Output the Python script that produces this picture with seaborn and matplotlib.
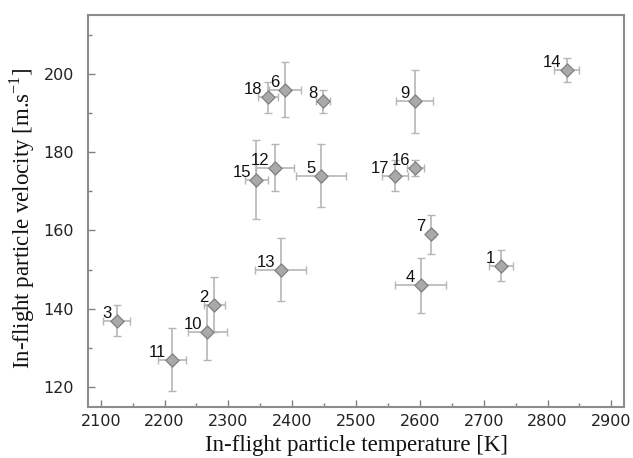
import matplotlib
matplotlib.use("Agg")
import matplotlib.pyplot as plt
import seaborn as sns
import pandas as pd
from matplotlib.ticker import MultipleLocator

labels = ["1", "2", "3", "4", "5", "6", "7", "8", "9", "10", "11", "12", "13", "14", "15", "16", "17", "18"]
temperature = [2727, 2278, 2125, 2601, 2445, 2388, 2618, 2448, 2592, 2267, 2211, 2373, 2382, 2830, 2344, 2593, 2561, 2362]
velocity = [151, 141, 137, 146, 174, 196, 159, 193, 193, 134, 127, 176, 150, 201, 173, 176, 174, 194]
temp_err = [19, 16, 21, 40, 39, 25, 5, 11, 29, 31, 22, 30, 40, 20, 18, 13, 21, 15]
vel_err = [4, 7, 4, 7, 8, 7, 5, 3, 8, 7, 8, 6, 8, 3, 10, 2, 4, 4]

df = pd.DataFrame({"label": labels, "T": temperature, "v": velocity,
                   "dT": temp_err, "dv": vel_err})

sns.set_theme(style="white")
plt.rcParams['font.family'] = ['DejaVu Sans']

fig, ax = plt.subplots(figsize=(6.33, 4.58), dpi=100)
fig.subplots_adjust(left=0.139, right=0.986, top=0.967, bottom=0.112)

ax.errorbar(df["T"], df["v"], xerr=df["dT"], yerr=df["dv"], fmt="none",
            ecolor="#b6b6b6", elinewidth=1.2, capsize=3, capthick=1.0, zorder=2)
sns.scatterplot(data=df, x="T", y="v", ax=ax, marker="D", s=45,
                color="#a9a9a9", edgecolor="#808080", linewidth=0.9, zorder=3)

for _, r in df.iterrows():
    ax.annotate(r["label"], (r["T"], r["v"]), xytext=(-4, 0), textcoords="offset points",
                ha="right", va="bottom", fontsize=12, color="#111111",
                family="Liberation Sans")

ax.set_xlim(2080, 2920)
ax.set_ylim(115, 215)
ax.xaxis.set_major_locator(MultipleLocator(100))
ax.xaxis.set_minor_locator(MultipleLocator(50))
ax.yaxis.set_major_locator(MultipleLocator(20))
ax.yaxis.set_minor_locator(MultipleLocator(10))
ax.tick_params(which="both", direction="in", bottom=True, left=True, top=False, right=False,
               color="#808080", labelsize=11.5, labelcolor="#222222",
               labelfontfamily="DejaVu Sans")
ax.tick_params(which="major", length=5, width=1)
ax.tick_params(which="minor", length=3, width=1)
ax.tick_params(axis="x", pad=5)
ax.tick_params(axis="y", pad=10)

for s in ax.spines.values():
    s.set_color("#8c8c8c")
    s.set_linewidth(1.5)

ax.set_xlabel("In-flight particle temperature [K]", family="Liberation Serif",
              fontsize=16.5, color="#111111")
ax.set_ylabel(r"In-flight particle velocity [m.s$^{\mathregular{-1}}$]", family="Liberation Serif",
              fontsize=16.5, color="#111111")
ax.xaxis.set_label_coords(0.5, -0.072)
ax.yaxis.set_label_coords(-0.095, 0.48)
ax.grid(False)

fig.savefig("out.png", dpi=100)
